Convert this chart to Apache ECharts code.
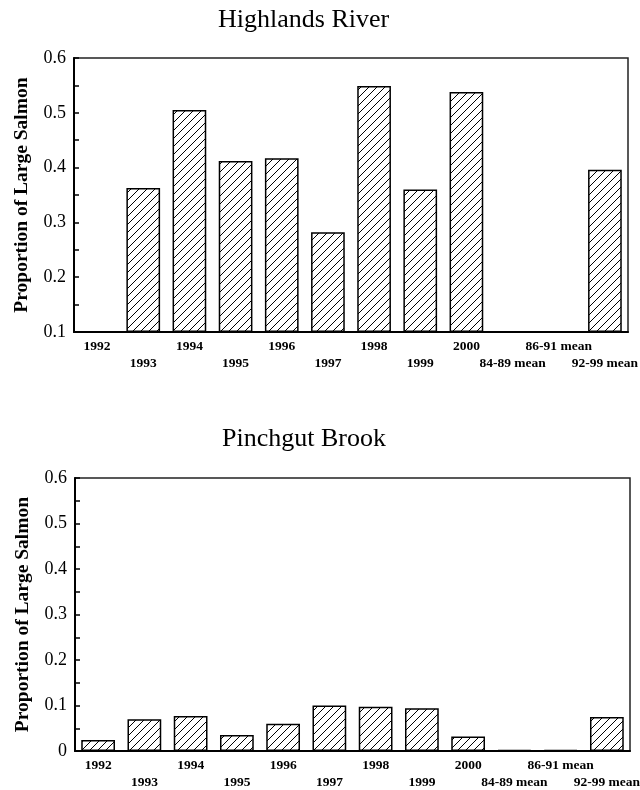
<!DOCTYPE html>
<html><head><meta charset="utf-8">
<script src="https://cdn.jsdelivr.net/npm/echarts@6/dist/echarts.min.js"></script>
<style>html,body{margin:0;padding:0;background:#fff}#c{width:640px;height:790px}</style>
</head><body><div id="c"></div>
<script>
const categories = ['1992','1993','1994','1995','1996','1997','1998','1999','2000','84-89 mean','86-91 mean','92-99 mean'];
const highlandsValues = [0.1, 0.363, 0.505, 0.412, 0.417, 0.282, 0.549, 0.360, 0.538, null, null, 0.396];
const pinchgutValues = [0.024, 0.070, 0.077, 0.035, 0.060, 0.100, 0.097, 0.094, 0.032, 0.002, 0.002, 0.075];
const titles = ['Highlands River', 'Pinchgut Brook'];
const yName = 'Proportion of Large Salmon';

const FONT = '"Liberation Serif","Times New Roman",serif';

// hatch pattern
const pc = document.createElement('canvas');
pc.width = 8; pc.height = 8;
const g = pc.getContext('2d');
g.fillStyle = '#fff'; g.fillRect(0,0,8,8);
g.strokeStyle = '#000'; g.lineWidth = 1;
g.beginPath();
g.moveTo(0,8); g.lineTo(8,0);
g.moveTo(-1,1); g.lineTo(1,-1);
g.moveTo(7,9); g.lineTo(9,7);
g.stroke();

const chart = echarts.init(document.getElementById('c'), null, {renderer:'canvas'});

function xAxis(gi){
  return {
    type:'category', gridIndex:gi, data:categories,
    axisLine:{lineStyle:{color:'#000', width:2}},
    axisTick:{inside:true, length:3, lineStyle:{color:'#000', width:1.5}},
    axisLabel:{interval:0, color:'#000', fontFamily:FONT, fontSize:13.5, fontWeight:'bold',
      margin:6, lineHeight:17, hideOverlap:false,
      formatter:(v,i)=> (i%2===1 ? '\n'+v : v)}
  };
}
function yAxis(gi, mn){
  return {
    type:'value', gridIndex:gi, min:mn, max:0.6, interval:0.1, startValue:mn,
    name:yName, nameLocation:'middle', nameGap:42,
    nameTextStyle:{color:'#000', fontFamily:FONT, fontSize:19.5, fontWeight:'bold'},
    axisLine:{show:true, lineStyle:{color:'#000', width:2}},
    axisTick:{show:true, inside:true, length:5, lineStyle:{color:'#000', width:1.5}},
    minorTick:{show:true, splitNumber:2, length:5, lineStyle:{color:'#000', width:1.5}},
    splitLine:{show:false},
    axisLabel:{color:'#000', fontFamily:FONT, fontSize:18, margin:8,
      formatter:v=> (Math.abs(v)<1e-9 ? '0' : v.toFixed(1))}
  };
}
function series(gi, data){
  return {
    type:'bar', xAxisIndex:gi, yAxisIndex:gi, data:data, barCategoryGap:'27%',
    itemStyle:{color:{image:pc, repeat:'repeat'}, borderColor:'#000', borderWidth:1.5},
    silent:true
  };
}

chart.setOption({
  animation:false,
  backgroundColor:'#fff',
  title:[
    {text:titles[0], left:218, top:7, padding:0, textStyle:{fontFamily:FONT, fontSize:26, fontWeight:'normal', color:'#000'}},
    {text:titles[1], left:222, top:426, padding:0, textStyle:{fontFamily:FONT, fontSize:26, fontWeight:'normal', color:'#000'}}
  ],
  grid:[
    {left:74, right:12, top:58, height:274, show:true, borderColor:'#222', borderWidth:1.5, backgroundColor:'transparent', outerBoundsMode:'none', containLabel:false},
    {left:75, right:10, top:478, height:273, show:true, borderColor:'#222', borderWidth:1.5, backgroundColor:'transparent', outerBoundsMode:'none', containLabel:false}
  ],
  xAxis:[xAxis(0), xAxis(1)],
  yAxis:[yAxis(0,0.1), yAxis(1,0)],
  series:[series(0, highlandsValues), series(1, pinchgutValues)]
});
</script></body></html>
